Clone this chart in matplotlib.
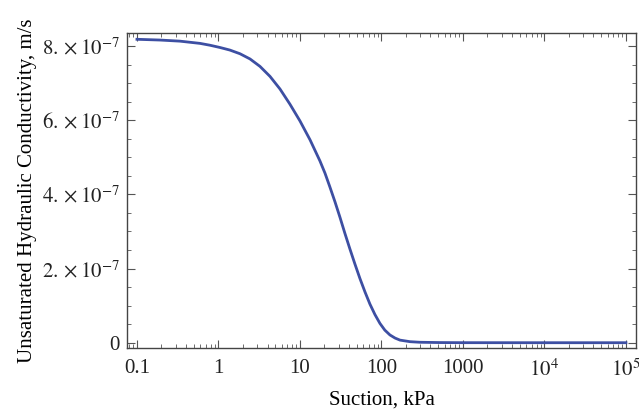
import numpy as np
import matplotlib
matplotlib.use("Agg")
import matplotlib.pyplot as plt
from matplotlib.ticker import FixedLocator, FixedFormatter, LogLocator, NullFormatter, MultipleLocator

plt.rcParams['font.family'] = ['Liberation Serif', 'DejaVu Serif']
plt.rcParams['mathtext.fontset'] = 'stix'

# curve: suction (kPa) vs conductivity (x1e-7 m/s)
suction = [0.1, 0.191, 0.337, 0.593, 0.787, 1.04, 1.38, 1.84, 2.44, 3.23, 4.29, 5.69,
           7.54, 10.0, 13.3, 17.6, 20.3, 23.3, 26.9, 31.0, 35.6, 41.0, 47.3, 54.5,
           62.8, 72.3, 83.2, 95.9, 110, 127, 147, 169, 224, 297, 522, 1000, 1e4, 1e5]
conduct = [8.18, 8.16, 8.13, 8.07, 8.02, 7.96, 7.89, 7.79, 7.65, 7.45, 7.18, 6.84,
           6.43, 5.98, 5.47, 4.90, 4.57, 4.20, 3.80, 3.38, 2.95, 2.53, 2.12, 1.73,
           1.37, 1.04, 0.76, 0.52, 0.34, 0.21, 0.125, 0.07, 0.028, 0.012, 0.004, 0.001, 0.0, 0.0]
conduct = np.array(conduct) * 1e-7

xticks = [0.1, 1, 10, 100, 1000, 1e4, 1e5]
xlabels = ['0.1', '1', '10', '100', '1000', r'$10^{4}$', r'$10^{5}$']
yticks = [0, 2e-7, 4e-7, 6e-7, 8e-7]
ylabels = ['0', r'$2.\times10^{-7}$', r'$4.\times10^{-7}$', r'$6.\times10^{-7}$', r'$8.\times10^{-7}$']

fig = plt.figure(figsize=(6.39, 4.15), dpi=100)
ax = fig.add_axes([0.1987, 0.1614, 0.7966, 0.7591])

ax.plot(suction, conduct, color='#3d4fa3', lw=2, solid_joinstyle='round')

ax.set_xscale('log')
ax.set_xlim(0.0754, 1.33e5)
ax.set_ylim(-1.43e-8, 8.35e-7)

ax.xaxis.set_major_locator(FixedLocator(xticks))
ax.xaxis.set_major_formatter(FixedFormatter(xlabels))
ax.xaxis.set_minor_locator(LogLocator(base=10, subs=np.arange(2, 10)))
ax.xaxis.set_minor_formatter(NullFormatter())
ax.yaxis.set_major_locator(FixedLocator(yticks))
ax.yaxis.set_major_formatter(FixedFormatter(ylabels))
ax.yaxis.set_minor_locator(MultipleLocator(0.5e-7))

ax.tick_params(which='both', direction='in', top=True, right=True, labelsize=15, colors='#222222')
ax.tick_params(axis='x', pad=8)
ax.tick_params(axis='y', pad=5)
ax.tick_params(which='major', length=6, width=0.8, color='#555555')
ax.tick_params(which='minor', length=3, width=0.6, color='#555555')
for s in ax.spines.values():
    s.set_color('#444444')
    s.set_linewidth(1.0)

ax.set_xlabel('Suction, kPa', fontsize=15, labelpad=7)
ax.set_ylabel('Unsaturated Hydraulic Conductivity, m/s', fontsize=15, labelpad=4)

fig.savefig('out.png', dpi=100)
